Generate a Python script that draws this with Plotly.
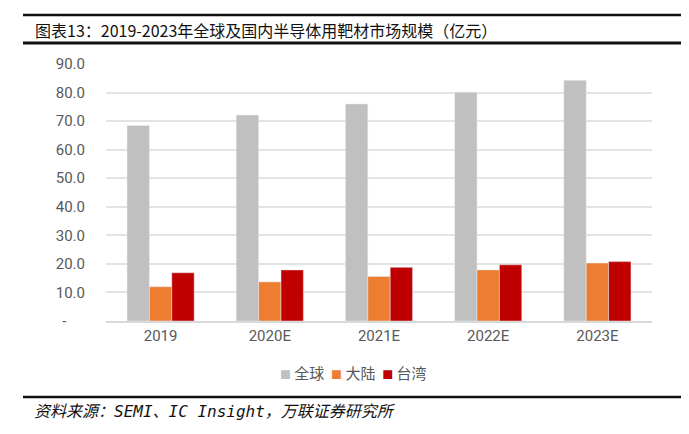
import plotly.graph_objects as go

# data
years = ["2019", "2020E", "2021E", "2022E", "2023E"]
global_vals = [68.5, 72.1, 76.0, 80.1, 84.3]
mainland_vals = [12.0, 13.7, 15.6, 17.9, 20.3]
taiwan_vals = [16.9, 17.9, 18.8, 19.7, 20.8]

series_names = ["全球", "大陆", "台湾"]
series_colors = ["#C0C0C0", "#ED7D31", "#C00000"]

y_ticks = [0, 10, 20, 30, 40, 50, 60, 70, 80, 90]
# zero shows as a dash (accounting format), sitting a bit left of the others
y_tick_text = ["-" + "&nbsp;" * 5] + [f"{v}.0" for v in y_ticks[1:]]

W, H = 689, 434
L, R, T, B = 106, 37, 64, 113
plot_w = W - L - R
plot_h = H - T - B


def px_x(x):
    """ pixel x -> paper x """
    return (x - L) / plot_w


def px_y(y):
    """ pixel y (from top) -> paper y """
    return (H - B - y) / plot_h


cjk = "Noto Sans CJK SC"

fig = go.Figure()
for name, color, vals in zip(series_names, series_colors, [global_vals, mainland_vals, taiwan_vals]):
    fig.add_trace(go.Bar(x=years, y=vals, name=name, marker=dict(color=color)))

fig.update_layout(
    width=W,
    height=H,
    margin=dict(l=L, r=R, t=T, b=B),
    paper_bgcolor="white",
    plot_bgcolor="white",
    barmode="group",
    bargap=0.385,
    bargroupgap=0,
    font=dict(family="Roboto, Arial, sans-serif", size=14, color="#595959"),
    xaxis=dict(
        showline=True,
        linecolor="#D9D9D9",
        linewidth=1.5,
        ticks="",
        tickfont=dict(size=15, color="#595959"),
    ),
    yaxis=dict(
        range=[0, 90],
        tickvals=y_ticks,
        ticktext=y_tick_text,
        showgrid=True,
        gridcolor="#E3E3E3",
        gridwidth=1.5,
        zeroline=False,
        ticks="",
        ticklabelstandoff=20,
        tickfont=dict(size=15, color="#595959"),
    ),
    showlegend=False,
)

# compact legend (small square right before each name), as in the source chart
legend_text = "&nbsp;&nbsp;".join(
    f"<span style='color:{c};font-size:11px'>■</span>&nbsp;{n}"
    for n, c in zip(series_names, series_colors)
)
fig.add_annotation(
    text=legend_text,
    xref="paper", yref="paper",
    x=px_x(353), y=px_y(372),
    xanchor="center", yanchor="middle",
    showarrow=False,
    font=dict(family=cjk, size=15, color="#595959"),
)

# title and header / footer rules
fig.add_annotation(
    text="图表13：2019-2023年全球及国内半导体用靶材市场规模（亿元）",
    xref="paper", yref="paper",
    x=px_x(33), y=px_y(30),
    xanchor="left", yanchor="middle",
    showarrow=False,
    font=dict(family=cjk, size=16, color="#111111"),
)
fig.add_annotation(
    text="<i>资料来源：SEMI、IC Insight，万联证券研究所</i>",
    xref="paper", yref="paper",
    x=px_x(32), y=px_y(411),
    xanchor="left", yanchor="middle",
    showarrow=False,
    font=dict(family="DejaVu Sans Mono, " + cjk, size=16, color="#111111"),
)
for y, w in [(15, 2.5), (43, 3), (397, 2.5)]:
    fig.add_shape(
        type="line",
        xref="paper", yref="paper",
        x0=px_x(23), x1=px_x(681),
        y0=px_y(y), y1=px_y(y),
        line=dict(color="#111111", width=w),
    )

# page body has a default margin, drop it so the figure sits at 0,0
fig.write_html(
    "out.html",
    config={"displayModeBar": False},
    post_script="document.body.style.margin='0';",
)
